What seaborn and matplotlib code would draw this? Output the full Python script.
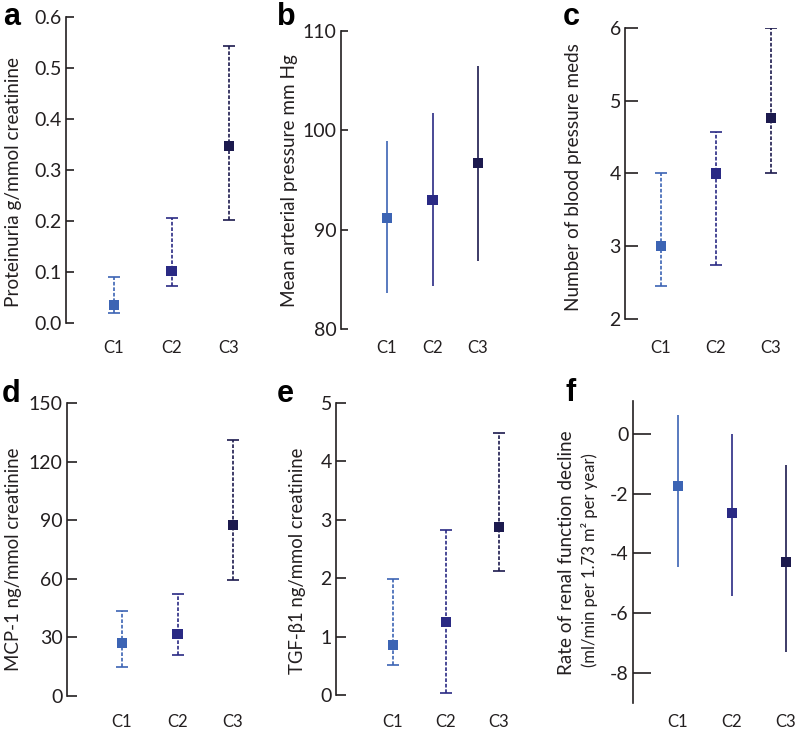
import matplotlib
matplotlib.use("Agg")
import matplotlib.pyplot as plt
import seaborn as sns
import pandas as pd

# ---------------- data ----------------
categories = ["C1", "C2", "C3"]
colors = ["#3C64B4", "#2A2A84", "#1C1A4E"]

a_mean = [0.035, 0.101, 0.348]
a_low = [0.020, 0.073, 0.202]
a_high = [0.090, 0.206, 0.544]

b_mean = [91.2, 93.0, 96.7]
b_low = [83.6, 84.3, 86.8]
b_high = [98.9, 101.7, 106.5]

c_mean = [3.0, 4.0, 4.76]
c_low = [2.46, 2.74, 4.0]
c_high = [4.0, 4.57, 6.0]

d_mean = [27.0, 31.8, 87.5]
d_low = [15.0, 21.0, 59.5]
d_high = [43.7, 52.1, 130.9]

e_mean = [0.85, 1.25, 2.88]
e_low = [0.52, 0.03, 2.12]
e_high = [1.99, 2.83, 4.49]

f_mean = [-1.73, -2.63, -4.30]
f_low = [-4.44, -5.41, -7.29]
f_high = [0.63, 0.0, -1.03]

a_ticks = [0.0, 0.1, 0.2, 0.3, 0.4, 0.5, 0.6]
b_ticks = [80, 90, 100, 110]
c_ticks = [2, 3, 4, 5, 6]
d_ticks = [0, 30, 60, 90, 120, 150]
e_ticks = [0, 1, 2, 3, 4, 5]
f_ticks = [0, -2, -4, -6, -8]

# ---------------- style ----------------
sns.set_style("ticks")
plt.rcParams["font.family"] = ["Lato", "DejaVu Sans"]
plt.rcParams["axes.unicode_minus"] = False

W, H = 800, 731
fig = plt.figure(figsize=(W / 100, H / 100), dpi=100)

SPINE = "#231f20"


def panel(spine_x, c1_x, dx, top_px, bot_px, width_px, ylim, ticks, fmt,
          mean, low, high, dashed, ticklen, xlab_y):
    ax = fig.add_axes([spine_x / W, 1 - bot_px / H, width_px / W,
                       (bot_px - top_px) / H])
    left = -(c1_x - spine_x) / dx
    ax.set_xlim(left, left + width_px / dx)
    ax.set_ylim(*ylim)
    df = pd.DataFrame({"pos": range(3), "cat": categories, "mean": mean,
                       "low": low, "high": high})
    for i, row in df.iterrows():
        ebar = ax.errorbar(row["pos"], row["mean"],
                           yerr=[[row["mean"] - row["low"]],
                                 [row["high"] - row["mean"]]],
                           fmt="none", ecolor=colors[i], elinewidth=1.2,
                           capsize=4 if dashed else 0, capthick=1.2,
                           zorder=2)
        if dashed:
            for lc in ebar[2]:
                lc.set_linestyle((0, (2.2, 1.1)))
    sns.scatterplot(data=df, x="pos", y="mean", hue="cat",
                    palette=colors, marker="s", s=52, edgecolor=None,
                    linewidth=0, legend=False, zorder=3, ax=ax)
    ax.set_xlabel("")
    ax.set_ylabel("")
    for s in ["top", "right", "bottom"]:
        ax.spines[s].set_visible(False)
    ax.spines["left"].set_color(SPINE)
    ax.spines["left"].set_linewidth(1.2)
    ax.set_yticks(ticks)
    ax.set_yticklabels([fmt.format(t) for t in ticks])
    ax.tick_params(axis="y", direction="in", length=ticklen, width=1.2,
                   color=SPINE, labelsize=14, pad=3, labelcolor="#231f20")
    ax.set_xticks(range(3))
    ax.set_xticklabels(categories)
    pad_px = xlab_y - bot_px - 8
    ax.tick_params(axis="x", length=0, labelsize=12, pad=pad_px * 0.72,
                   labelcolor="#231f20")
    ax.patch.set_alpha(0)
    return ax


panel(66, 114, 57.5, 17, 323, 194, (0, 0.6), a_ticks, "{:.1f}",
      a_mean, a_low, a_high, True, 6, 348)
panel(341, 387, 45.5, 31, 329, 170, (80, 110), b_ticks, "{:d}",
      b_mean, b_low, b_high, False, 5, 348)
panel(625, 661, 55, 28, 319, 170, (2, 6), c_ticks, "{:d}",
      c_mean, c_low, c_high, True, 9, 348)
panel(67, 122, 55.5, 403, 696, 195, (0, 150), d_ticks, "{:d}",
      d_mean, d_low, d_high, True, 7, 722)
panel(336, 393, 53, 403, 695, 190, (0, 5), e_ticks, "{:d}",
      e_mean, e_low, e_high, True, 7, 722)
panel(633, 678, 54, 401, 703, 165, (-9.0, 1.1), f_ticks, "{:d}",
      f_mean, f_low, f_high, False, 13, 722)

renderer = fig.canvas.get_renderer()


# y labels, font size fitted to the reference text length
def ylab(x, y, text, length_px, size=12.5):
    t = fig.text(x / W, 1 - y / H, text, rotation=90, ha="center",
                 va="center", fontsize=size, color="#231f20")
    ext = t.get_window_extent(renderer)
    t.set_fontsize(size * length_px / ext.height)
    return t


ylab(14, 182, "Proteinuria g/mmol creatinine", 251)
ylab(290, 181, "Mean arterial pressure mm Hg", 252)
ylab(573, 177, "Number of blood pressure meds", 269)
ylab(14, 559, "MCP-1 ng/mmol creatinine", 225)
ylab(298, 561, "TGF-\u03b21 ng/mmol creatinine", 228)
ylab(567, 553, "Rate of renal function decline", 245)
ylab(589, 560, "(ml/min per 1.73 m\u00b2 per year)", 215, size=10.5)

# panel letters
for letter, x, y in [("a", 3, 25), ("b", 277, 25), ("c", 563, 25),
                     ("d", 2, 402), ("e", 277, 402), ("f", 565, 401)]:
    fig.text(x / W, 1 - y / H, letter, ha="left", va="baseline",
             fontsize=22, fontweight="bold",
             family=["Liberation Sans", "DejaVu Sans"], color="black")

fig.savefig("out.png", dpi=100, facecolor="white")
